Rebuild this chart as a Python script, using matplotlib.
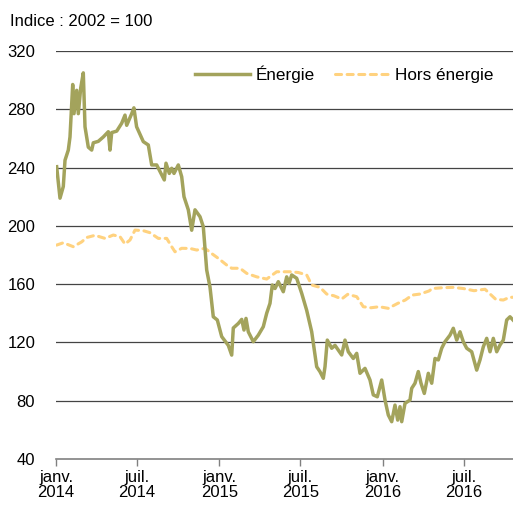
import matplotlib
matplotlib.use("Agg")
import matplotlib.pyplot as plt
import pandas as pd

plt.rcParams['font.family'] = ['Liberation Sans', 'DejaVu Sans']

# Time positions in years since 1 Jan 2014
energie_t = [0.004, 0.0245, 0.0447, 0.0551, 0.0753, 0.0857, 0.1023, 0.1102, 0.1268, 0.1366,
             0.1513, 0.1672, 0.1776, 0.1978, 0.2186, 0.2284, 0.259, 0.2897, 0.3203, 0.3307,
             0.3411, 0.3717, 0.4023, 0.4225, 0.4329, 0.4636, 0.477, 0.4936, 0.5346, 0.5652,
             0.586, 0.6166, 0.6473, 0.6632, 0.6736, 0.6938, 0.7085, 0.7226, 0.7489, 0.7697,
             0.7838, 0.8102, 0.831, 0.8512, 0.8818, 0.902, 0.9228, 0.943, 0.9632, 0.9878,
             1.0147, 1.0453, 1.055, 1.0759, 1.0857, 1.1163, 1.1372, 1.1512, 1.1635, 1.1776,
             1.2082, 1.2388, 1.2694, 1.2902, 1.3104, 1.3245, 1.3411, 1.3613, 1.3919, 1.4127,
             1.4268, 1.4434, 1.474, 1.5046, 1.5352, 1.5658, 1.5964, 1.6167, 1.6369, 1.6473,
             1.6613, 1.6883, 1.7085, 1.7287, 1.7495, 1.7697, 1.7899, 1.8205, 1.8414, 1.8616,
             1.8922, 1.9228, 1.943, 1.9675, 1.9945, 2.0147, 2.0349, 2.0557, 2.0759, 2.0925,
             2.1066, 2.117, 2.1372, 2.1678, 2.1782, 2.1984, 2.2186, 2.2351, 2.2554, 2.2799,
             2.3007, 2.3209, 2.3411, 2.3619, 2.3821, 2.4127, 2.4329, 2.4538, 2.474, 2.4942,
             2.515, 2.5456, 2.5762, 2.5964, 2.6167, 2.6375, 2.6577, 2.6779, 2.6987, 2.7189,
             2.7391, 2.7599, 2.7801, 2.7985]
energie_v = [240.6, 219, 227, 245, 252, 261, 297, 277, 293, 277,
             294.6, 305, 268, 254, 252, 257, 258, 261, 264.6, 252,
             264, 265, 270.4, 276, 269, 277, 281, 268, 257.8, 255.5,
             241.8, 241.8, 235, 231.5, 243, 236, 239.5, 236, 241.8, 233.7,
             220, 211, 197, 211, 206.3, 199.4, 169.7, 158, 137.6, 135.4,
             124, 119.4, 118, 111.3, 129.9, 133, 135.8, 128.5, 136.5, 127.3,
             120.5, 125, 130.8, 140, 146.8, 159.4, 157, 161.7, 154.8, 165,
             160.5, 166.3, 164, 153.7, 142, 127.3, 103.3, 99.9, 95.4, 103.3,
             121.6, 116, 118, 114.8, 111.4, 121.6, 113.6, 109, 112.5, 98.8,
             102.2, 94.2, 84, 82.7, 94.2, 80.5, 70.2, 65.6, 77, 66.7,
             75.9, 65.6, 78.2, 80.5, 88.5, 92, 100, 92, 85, 98.8,
             92, 109, 108, 116, 120.5, 125, 129.7, 121.6, 127.3, 120.5,
             116, 113.6, 101, 108, 117, 122.8, 113.6, 122.8, 113.6, 118.2,
             121.6, 135.4, 137.6, 135.4]

hors_t = [0.004, 0.0447, 0.1059, 0.1574, 0.188, 0.2388, 0.3001, 0.3509, 0.3919, 0.4226,
          0.4532, 0.4838, 0.5346, 0.5756, 0.6265, 0.6779, 0.7085, 0.7287, 0.7697, 0.8206,
          0.8616, 0.9124, 0.9535, 0.9939, 1.0453, 1.0759, 1.1268, 1.1678, 1.229, 1.2902,
          1.3515, 1.433, 1.4838, 1.5352, 1.5658, 1.6167, 1.6577, 1.7024, 1.7495, 1.7863,
          1.8414, 1.8818, 1.929, 1.9798, 2.0349, 2.0925, 2.139, 2.1819, 2.229, 2.2841,
          2.3043, 2.3619, 2.4292, 2.4942, 2.5597, 2.6271, 2.6926, 2.7391, 2.7759, 2.7985]
hors_v = [186.8, 188.4, 185.7, 189, 192, 193.5, 191.4, 193.7, 192.6, 187.5,
          190.3, 197.1, 196.7, 195.3, 191.4, 191.4, 185.7, 182.2, 184.6, 184.5,
          183.4, 184.6, 181, 177.7, 173.1, 170.9, 170.9, 167.4, 165, 163.5,
          168.5, 168.5, 168, 166.3, 159.4, 157.8, 153.2, 152, 149.8, 153,
          151.4, 144.5, 143.8, 144.5, 143.4, 146.8, 149.1, 152.5, 153.2, 155.3,
          157, 157.5, 157.8, 157, 155.5, 156.5, 149.6, 149.1, 150.9, 151]

tick_dates = ['2014-01-01', '2014-07-01', '2015-01-01', '2015-07-01', '2016-01-01', '2016-07-01']
tick_labels = ['janv.\n2014', 'juil.\n2014', 'janv.\n2015', 'juil.\n2015', 'janv.\n2016', 'juil.\n2016']
y_ticks = [40, 80, 120, 160, 200, 240, 280, 320]

start = pd.Timestamp('2014-01-01')
def to_dates(t):
    return [start + pd.Timedelta(days=float(x) * 365.0) for x in t]

fig = plt.figure(figsize=(5.13, 5.08), dpi=100)
ax = fig.add_axes([56/513, 1 - 459/508, 1 - 56/513, (459 - 51)/508])

col_e = '#A3A35C'
col_h = '#FFD27F'
ax.plot(to_dates(energie_t), energie_v, color=col_e, lw=2.5, label='Énergie',
        solid_joinstyle='round', zorder=3)
ax.plot(to_dates(hors_t), hors_v, color=col_h, lw=2.2, label='Hors énergie',
        linestyle=(0, (2.0, 1.8)), dash_capstyle='round', zorder=2)

ax.set_ylim(40, 320)
ax.set_xlim(start, start + pd.Timedelta(days=2.7985 * 365))
ax.set_yticks(y_ticks)
for y in y_ticks[1:]:
    ax.axhline(y, color='#444444', lw=0.9, zorder=1)

ax.set_xticks([pd.Timestamp(d) for d in tick_dates])
ax.set_xticklabels(tick_labels, fontsize=12, linespacing=1.0)
ax.tick_params(axis='x', length=5, width=1, color='#808080', pad=3)
ax.tick_params(axis='y', length=0, pad=15, labelsize=12)

for s in ['left', 'right', 'top']:
    ax.spines[s].set_visible(False)
ax.spines['bottom'].set_color('#808080')
ax.spines['bottom'].set_linewidth(1.2)

leg = ax.legend(loc='upper right', bbox_to_anchor=(0.968, 0.978),
                ncol=2, frameon=False, fontsize=12.3, handlelength=3.2, handletextpad=0.3,
                columnspacing=1.2, borderaxespad=0.0, borderpad=0.3)

fig.text(10/513, 1 - 21/508, 'Indice : 2002 = 100', fontsize=12, va='center', ha='left')

fig.savefig('out.png', dpi=100)
